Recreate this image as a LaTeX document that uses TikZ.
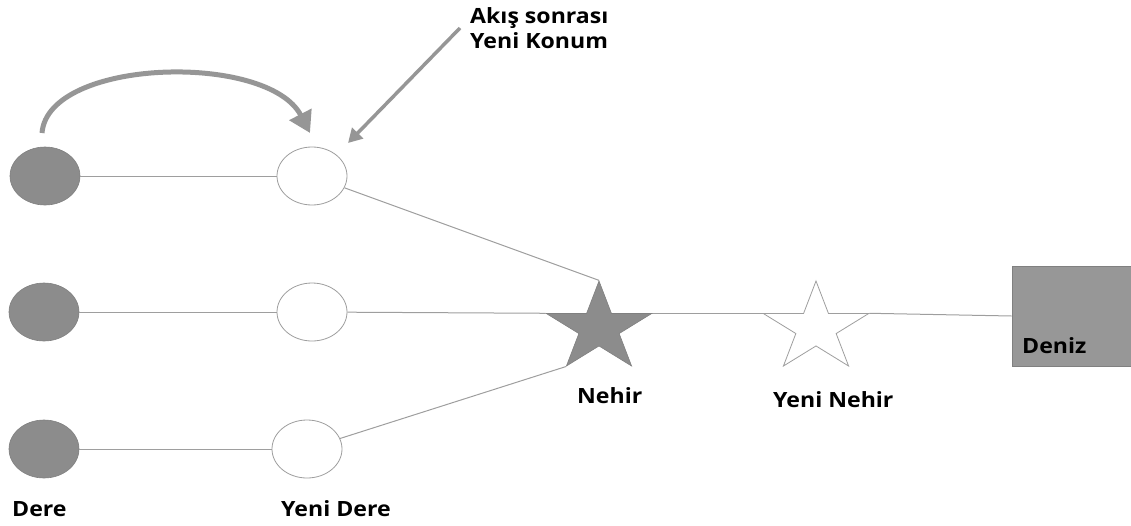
\documentclass[tikz,border=0pt]{standalone}
\usepackage{fontspec}
\setmainfont{Open Sans}
\usepackage{graphicx}
\usetikzlibrary{shapes.geometric,arrows.meta}
\definecolor{fillgray}{HTML}{8C8C8C}
\definecolor{edgegray}{HTML}{808080}
\definecolor{linegray}{HTML}{9E9E9E}
\definecolor{arrowgray}{HTML}{969696}
\definecolor{seagray}{HTML}{979797}
\newcommand{\lbl}[1]{\scalebox{1.1}[1]{\bfseries\fontsize{21}{26}\selectfont #1}}
\tikzset{
  dere/.style={ellipse, minimum width=70pt, minimum height=58pt, inner sep=0pt, fill=fillgray, draw=edgegray, line width=0.6pt},
  yenidere/.style={ellipse, minimum width=70pt, minimum height=58pt, inner sep=0pt, fill=white, draw=linegray, line width=0.8pt},
  starbase/.style={star, star points=5, star point ratio=2.618, minimum size=94pt, inner sep=0pt, xscale=1.18, transform shape},
  nehirstar/.style={starbase, fill=fillgray, draw=edgegray, line width=0.6pt},
  yenistar/.style={starbase, fill=white, draw=linegray, line width=0.8pt},
  sea/.style={rectangle, minimum width=119pt, minimum height=100pt, inner sep=0pt, fill=seagray, draw=edgegray, line width=0.6pt},
  link/.style={draw=linegray, line width=1pt},
  lab/.style={anchor=base west, inner sep=0pt, text=black},
  bigarrow/.style={draw=arrowgray, line width=5pt, -{Triangle[width=24pt,length=21pt]}},
  thinarrow/.style={draw=arrowgray, line width=3.5pt, -{Triangle[width=15pt,length=14pt]}}
}
\begin{document}
\begin{tikzpicture}[x=1pt,y=-1pt]
\useasboundingbox (0,0) rectangle (1131,525);
% Dere
\node[dere] (d1) at (45,176) {};
\node[dere] (d2) at (44,312) {};
\node[dere] (d3) at (44,449) {};
% Yeni Dere
\node[yenidere] (y1) at (312,176) {};
\node[yenidere] (y2) at (312,312) {};
\node[yenidere] (y3) at (307,449) {};
% connectors
\draw[link] (d1) -- (y1);
\draw[link] (d2) -- (y2);
\draw[link] (d3) -- (y3);
% stars (placed, connectors drawn before filling)
\path (599,328) coordinate (nc);
\path (816,328) coordinate (ync);
\node[sea] (deniz) at (1071.5,316) {};
\node[starbase] (nehirP) at (nc) {};
\node[starbase] (yeninehirP) at (ync) {};
\draw[link] (y1) -- (nehirP.outer point 1);
\draw[link] (y2) -- (nehirP.outer point 2);
\draw[link] (y3) -- (nehirP.outer point 3);
\draw[link] (nehirP.outer point 5) -- (yeninehirP.outer point 2);
\draw[link] (yeninehirP.outer point 5) -- (deniz.west);
\node[nehirstar] (nehir) at (nc) {};
\node[yenistar] (yeninehir) at (ync) {};
% arrows
\coordinate (arcS) at (42,133);
\coordinate (arcE) at (310,133);
\draw[bigarrow] (arcS) .. controls (48,58) and (268,52) .. (arcE);
\coordinate (konS) at (460,28);
\coordinate (konE) at (348,143);
\draw[thinarrow] (konS) -- (konE);
% labels
\node[lab] (tAkis) at (470,23) {\lbl{Akış sonrası}};
\node[lab] (tKonum) at (470,48) {\lbl{Yeni Konum}};
\node[lab] (tDere) at (12,516) {\lbl{Dere}};
\node[lab] (tYDere) at (281,516) {\lbl{Yeni Dere}};
\node[lab] (tNehir) at (577,403) {\lbl{Nehir}};
\node[lab] (tYNehir) at (773,407) {\lbl{Yeni Nehir}};
\node[lab] (tDeniz) at (1022,353) {\lbl{Deniz}};
\end{tikzpicture}
\end{document}
